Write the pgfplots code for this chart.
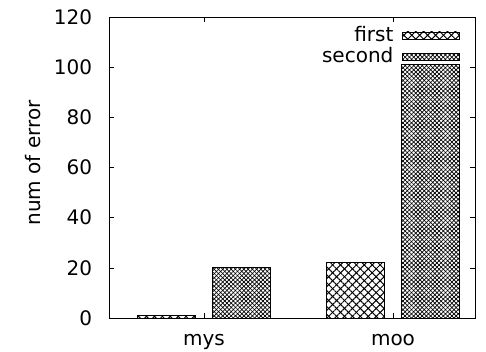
\documentclass[border=0pt]{standalone}
\usepackage{pgfplots}
\pgfplotsset{compat=1.18}
\usepackage{fontspec}
\setmainfont{DejaVu Sans}
\usetikzlibrary{patterns,patterns.meta}
\tikzset{
  firstpat/.style={pattern={Lines[angle=45,distance=5.6pt,line width=1pt]},pattern color=black,
    postaction={pattern={Lines[angle=-45,distance=5.6pt,line width=1pt]},pattern color=black}},
  secondpat/.style={pattern={Lines[angle=45,distance=3pt,line width=0.7pt]},pattern color=black,
    postaction={pattern={Lines[angle=-45,distance=3pt,line width=0.7pt]},pattern color=black}},
}
\pgfplotsset{
  boxlegend/.style={area legend, legend image code/.code={\draw[##1] (0pt,-3.5pt) rectangle (57pt,3.5pt);}},
}
\begin{document}
\fontsize{20}{24}\selectfont
\begin{tikzpicture}
\useasboundingbox (-109pt,-34pt) rectangle (377pt,318pt);
\begin{axis}[
  at={(0,0)}, anchor=south west,
  scale only axis, width=366pt, height=301pt,
  xmin=-0.503, xmax=1.434, ymin=0, ymax=120,
  xtick={0,1}, xticklabels={mys,moo},
  ytick={0,20,...,120},
  tick align=inside, major tick length=5pt,
  xtick pos=both, ytick pos=both,
  tick style={black, line width=0.5pt},
  axis line style={line width=0.8pt},
  /pgf/number format/assume math mode=true,
  ticklabel style={font=\fontsize{20}{24}\selectfont},
  yticklabel style={xshift=-10pt},
  xticklabel style={yshift=-9pt},
  ylabel={num of error},
  y label style={at={(axis description cs:-0.2083,0.515)}, anchor=center, font=\fontsize{20}{24}\selectfont},
  legend style={draw=none, fill=none, at={(rel axis cs:0.968,0.983)}, anchor=north east, font=\fontsize{20}{24}\selectfont, row sep=-1pt, column sep=7pt},
  legend plot pos=right,
  legend cell align=right,
]
\addplot[ybar, bar width=0.307, bar shift=-0.2, draw=black, line width=0.7pt, firstpat, boxlegend]
  coordinates {(0,1) (1,22)};
\addlegendentry{first}
\addplot[ybar, bar width=0.307, bar shift=0.2, draw=black, line width=0.7pt, secondpat, boxlegend]
  coordinates {(0,20) (1,101)};
\addlegendentry{second}
\end{axis}
\end{tikzpicture}
\end{document}
